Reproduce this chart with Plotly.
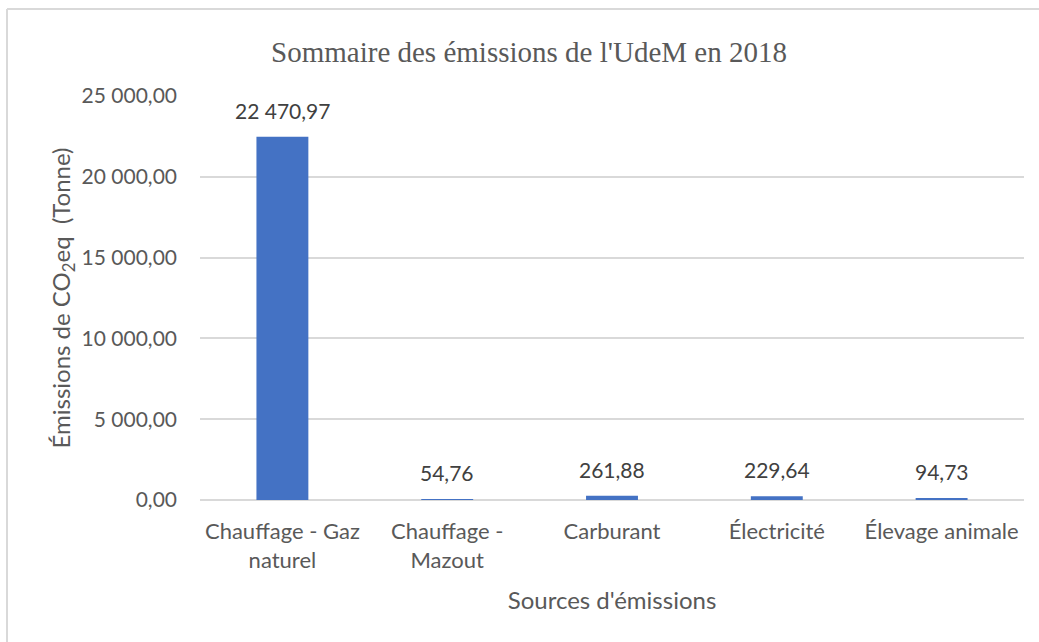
import plotly.graph_objects as go

# Sommaire des emissions de l'UdeM en 2018
categories = ["Chauffage - Gaz<br>naturel", "Chauffage -<br>Mazout", "Carburant",
              "Électricité", "Élevage animale"]
emissions = [22470.97, 54.76, 261.88, 229.64, 94.73]
y_ticks = [0, 5000, 10000, 15000, 20000, 25000]

W, H = 1039, 642
L, R, T, B = 200, 15, 96, 142
pw, ph = W - L - R, H - T - B

text_font = "Lato, Calibri, Carlito, sans-serif"
grey = "#595959"

fig = go.Figure(go.Bar(
    x=categories,
    y=emissions,
    marker=dict(color="#4472C4", line=dict(width=0)),
))

# data labels above each bar
for c, v in zip(categories, emissions):
    fig.add_annotation(x=c, y=v, text=f"{v:,.2f}".replace(",", " ").replace(".", ","),
                       showarrow=False, yanchor="bottom", yshift=12,
                       font=dict(family=text_font, size=21, color="#404040"))

# outer chart border: only left and top edges fall inside the picture
bx0, by0 = (7 - L) / pw, (H - B - 9) / ph
border = dict(color="#D9D9D9", width=2)
fig.add_shape(type="line", xref="paper", yref="paper",
              x0=bx0, x1=bx0, y0=(H - B - (H + 10)) / ph, y1=by0, line=border, layer="below")
fig.add_shape(type="line", xref="paper", yref="paper",
              x0=bx0, x1=(W + 10 - L) / pw, y0=by0, y1=by0, line=border, layer="below")

fig.update_layout(
    width=W, height=H,
    margin=dict(l=L, r=R, t=T, b=B),
    paper_bgcolor="white", plot_bgcolor="white",
    separators=", ",
    bargap=0.685,
    showlegend=False,
    title=dict(text="Sommaire des émissions de l'UdeM en 2018",
               x=529 / W, xanchor="center", y=1 - 52 / H, yanchor="middle",
               font=dict(family="Liberation Serif, Times New Roman, serif", size=29, color=grey)),
    font=dict(family=text_font, size=21, color=grey),
)
fig.update_xaxes(
    showline=False, ticks="", tickfont=dict(size=22, color=grey),
    ticklabelstandoff=16,
    title=dict(text="Sources d'émissions", font=dict(size=24, color=grey), standoff=20),
)
fig.update_yaxes(
    range=[0, 25000], tickvals=y_ticks, tickformat=",.2f",
    showgrid=True, gridcolor="#D9D9D9", gridwidth=1.5,
    zeroline=True, zerolinecolor="#D9D9D9", zerolinewidth=1.5,
    ticks="", ticklabelstandoff=22, tickfont=dict(size=21, color=grey),
    title=dict(text="Émissions de CO<sub>2</sub>eq  (Tonne)", font=dict(size=24, color=grey), standoff=4),
)

fig.write_html("out.html", config={"displayModeBar": False},
               post_script="document.body.style.margin = '0'; document.body.style.overflow = 'hidden';")
